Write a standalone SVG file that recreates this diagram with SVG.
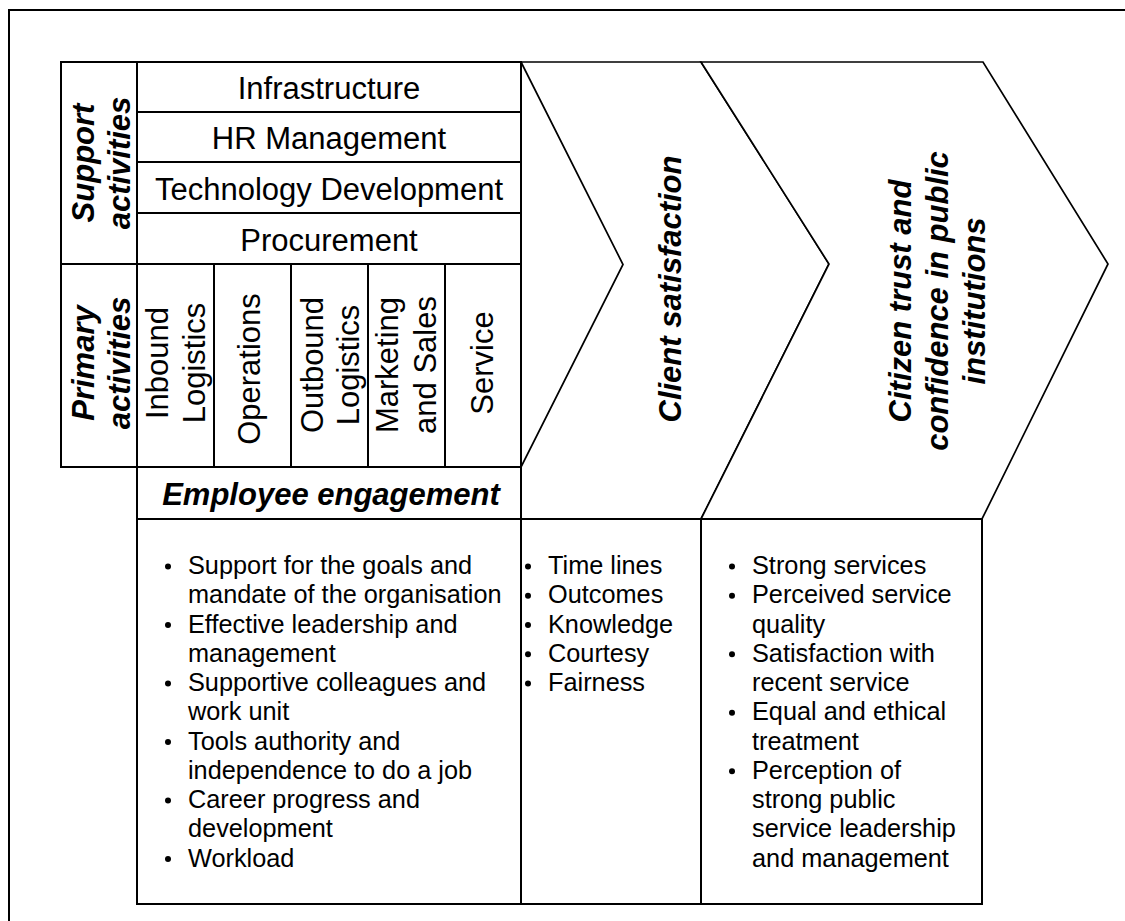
<svg xmlns="http://www.w3.org/2000/svg" width="1125" height="921" viewBox="0 0 1125 921">
<style>
  .box{fill:#fff;stroke:#000;stroke-width:2}
  .chev{fill:#fff;stroke:#000;stroke-width:1.7;stroke-linejoin:miter}
  .frame{fill:none;stroke:#000;stroke-width:2}
  text{font-family:"Liberation Sans",Arial,sans-serif;fill:#000}
  .hd{font-size:31px;text-anchor:middle}
  .bi{font-size:31px;font-weight:bold;font-style:italic;text-anchor:middle}
  .li{font-size:25.3px}
  .dot{fill:#000}
</style>
<rect width="1125" height="921" fill="#fff"/>
<g id="frame"><path class="frame" d="M9,930 L9,10 L1135,10"/></g>

<g id="chevron-client">
  <path class="chev" d="M521,62 L701,62 L829,264 L701,519 L521,519 L521,467 L623,264.5 Z"/>
  <text class="bi" transform="translate(681,289) rotate(-90)">Client satisfaction</text>
</g>
<g id="chevron-trust">
  <path class="chev" d="M701,62 L983,62 L1108,264 L982,519 L701,519 L829,264 Z"/>
  <text class="bi" transform="translate(911,301) rotate(-90)">Citizen trust and</text>
  <text class="bi" transform="translate(948,301) rotate(-90)">confidence in public</text>
  <text class="bi" transform="translate(985,301) rotate(-90)">institutions</text>
</g>

<g id="support-label">
  <rect class="box" x="61" y="62" width="76" height="202"/>
  <text class="bi" transform="translate(94,163) rotate(-90)">Support</text>
  <text class="bi" transform="translate(130,163) rotate(-90)">activities</text>
</g>
<g id="infrastructure">
  <rect class="box" x="137" y="62" width="384" height="50"/>
  <text class="hd" x="329" y="99">Infrastructure</text>
</g>
<g id="hr-management">
  <rect class="box" x="137" y="112" width="384" height="50"/>
  <text class="hd" x="329" y="149">HR Management</text>
</g>
<g id="technology-development">
  <rect class="box" x="137" y="162" width="384" height="51"/>
  <text class="hd" x="329" y="199.5">Technology Development</text>
</g>
<g id="procurement">
  <rect class="box" x="137" y="213" width="384" height="51"/>
  <text class="hd" x="329" y="250.5">Procurement</text>
</g>

<g id="primary-label">
  <rect class="box" x="61" y="264" width="76" height="203"/>
  <text class="bi" transform="translate(94,363) rotate(-90)">Primary</text>
  <text class="bi" transform="translate(130,363) rotate(-90)">activities</text>
</g>
<g id="inbound-logistics">
  <rect class="box" x="137" y="264" width="77" height="203"/>
  <text class="hd" transform="translate(168,363) rotate(-90)">Inbound</text>
  <text class="hd" transform="translate(205,363) rotate(-90)">Logistics</text>
</g>
<g id="operations">
  <rect class="box" x="214" y="264" width="77" height="203"/>
  <text class="hd" transform="translate(260,369) rotate(-90)">Operations</text>
</g>
<g id="outbound-logistics">
  <rect class="box" x="291" y="264" width="77" height="203"/>
  <text class="hd" transform="translate(323,365) rotate(-90)">Outbound</text>
  <text class="hd" transform="translate(359,365) rotate(-90)">Logistics</text>
</g>
<g id="marketing-sales">
  <rect class="box" x="368" y="264" width="77" height="203"/>
  <text class="hd" transform="translate(398,365) rotate(-90)">Marketing</text>
  <text class="hd" transform="translate(436,365) rotate(-90)">and Sales</text>
</g>
<g id="service">
  <rect class="box" x="445" y="264" width="76" height="203"/>
  <text class="hd" transform="translate(493,363) rotate(-90)">Service</text>
</g>

<g id="employee-engagement">
  <rect class="box" x="137" y="467" width="384" height="52"/>
  <text class="bi" x="331" y="505">Employee engagement</text>
</g>

<g id="employee-list">
  <rect class="box" x="137" y="519" width="384" height="385"/>
  <circle class="dot" cx="168" cy="566.5" r="3"/>
  <circle class="dot" cx="168" cy="625" r="3"/>
  <circle class="dot" cx="168" cy="683.5" r="3"/>
  <circle class="dot" cx="168" cy="742" r="3"/>
  <circle class="dot" cx="168" cy="800.5" r="3"/>
  <circle class="dot" cx="168" cy="859" r="3"/>
  <text class="li" x="188" y="574">Support for the goals and</text>
  <text class="li" x="188" y="603.3">mandate of the organisation</text>
  <text class="li" x="188" y="632.5">Effective leadership and</text>
  <text class="li" x="188" y="661.8">management</text>
  <text class="li" x="188" y="691">Supportive colleagues and</text>
  <text class="li" x="188" y="720.3">work unit</text>
  <text class="li" x="188" y="749.5">Tools authority and</text>
  <text class="li" x="188" y="778.8">independence to do a job</text>
  <text class="li" x="188" y="808">Career progress and</text>
  <text class="li" x="188" y="837.3">development</text>
  <text class="li" x="188" y="866.5">Workload</text>
</g>

<g id="client-list">
  <rect class="box" x="521" y="519" width="180" height="385"/>
  <circle class="dot" cx="528" cy="566.5" r="3"/>
  <circle class="dot" cx="528" cy="595.8" r="3"/>
  <circle class="dot" cx="528" cy="625" r="3"/>
  <circle class="dot" cx="528" cy="654.3" r="3"/>
  <circle class="dot" cx="528" cy="683.5" r="3"/>
  <text class="li" x="548" y="574">Time lines</text>
  <text class="li" x="548" y="603.3">Outcomes</text>
  <text class="li" x="548" y="632.5">Knowledge</text>
  <text class="li" x="548" y="661.8">Courtesy</text>
  <text class="li" x="548" y="691">Fairness</text>
</g>

<g id="trust-list">
  <rect class="box" x="701" y="519" width="281" height="385"/>
  <circle class="dot" cx="732" cy="566.5" r="3"/>
  <circle class="dot" cx="732" cy="595.8" r="3"/>
  <circle class="dot" cx="732" cy="654.3" r="3"/>
  <circle class="dot" cx="732" cy="712.8" r="3"/>
  <circle class="dot" cx="732" cy="771.3" r="3"/>
  <text class="li" x="752" y="574">Strong services</text>
  <text class="li" x="752" y="603.3">Perceived service</text>
  <text class="li" x="752" y="632.5">quality</text>
  <text class="li" x="752" y="661.8">Satisfaction with</text>
  <text class="li" x="752" y="691">recent service</text>
  <text class="li" x="752" y="720.3">Equal and ethical</text>
  <text class="li" x="752" y="749.5">treatment</text>
  <text class="li" x="752" y="778.8">Perception of</text>
  <text class="li" x="752" y="808">strong public</text>
  <text class="li" x="752" y="837.3">service leadership</text>
  <text class="li" x="752" y="866.5">and management</text>
</g>

<g id="connectors"></g>
</svg>
